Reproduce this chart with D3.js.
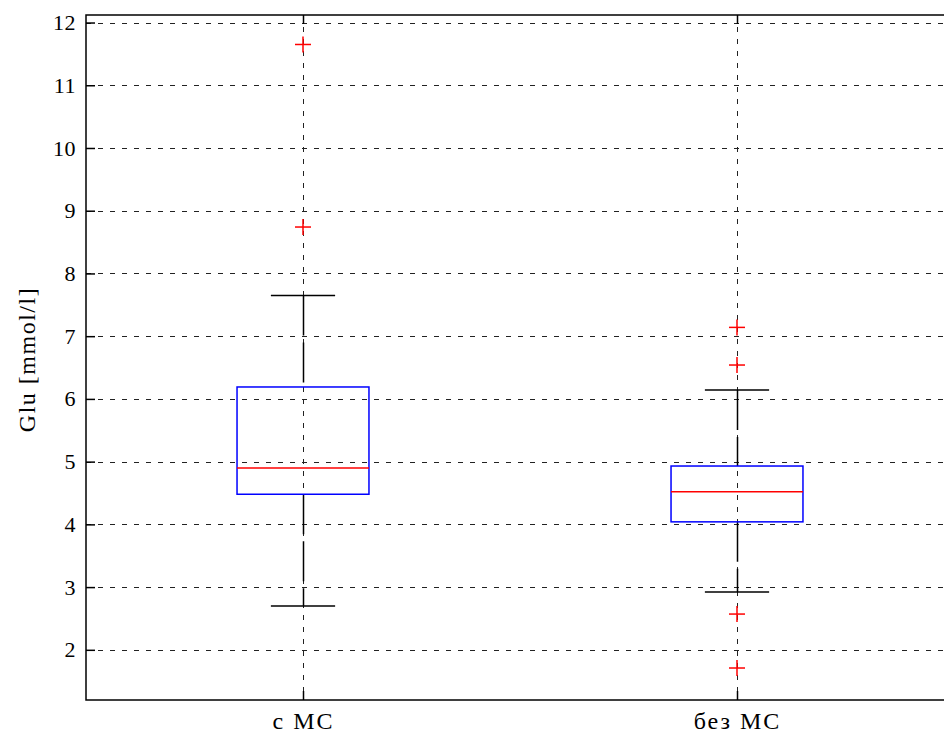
<!DOCTYPE html>
<html>
<head>
<meta charset="utf-8">
<script src="https://cdn.jsdelivr.net/npm/d3@7"></script>
<style>
  html, body { margin: 0; padding: 0; background: #fff; }
  svg { display: block; }
  svg text { font-family: "Liberation Serif", "Times New Roman", serif !important; fill: #000; }
  .ytick text { font-size: 22px !important; letter-spacing: 0.5px; }
  .xtick text { font-size: 24px !important; letter-spacing: 2px; }
  .ylabel { font-size: 24px; letter-spacing: 1.5px; }
</style>
</head>
<body>
<script>
// Glucose by group: box statistics and outliers
const groups = ["с МС", "без МС"];
const lowerWhisker = [2.70, 2.92];
const q1 = [4.48, 4.04];
const median = [4.90, 4.52];
const q3 = [6.19, 4.93];
const upperWhisker = [7.65, 6.14];
const outliers = [[11.65, 8.74], [7.14, 6.54, 2.57, 1.71]];
const yTicks = [2, 3, 4, 5, 6, 7, 8, 9, 10, 11, 12];
const yLabel = "Glu [mmol/l]";

const W = 944, H = 733;
const margin = { left: 86, top: 15, right: -10, bottom: 33 };
const innerW = W - margin.left - margin.right;
const innerH = H - margin.top - margin.bottom;

const svg = d3.select("body").append("svg").attr("width", W).attr("height", H);
const g = svg.append("g").attr("transform", `translate(${margin.left},${margin.top})`);

const x = d3.scaleLinear().domain([0.5, 2.5]).range([0, innerW]);
const y = d3.scaleLinear().domain([1.2, 12.12]).range([innerH, 0]);
const pos = groups.map((_, i) => i + 1);

// grid
const gridDash = "5,7";
g.selectAll(".hgrid").data(yTicks).join("line")
  .attr("x1", 0).attr("x2", innerW)
  .attr("y1", d => Math.round(y(d)) + 0.5).attr("y2", d => Math.round(y(d)) + 0.5)
  .attr("stroke", "#222").attr("stroke-dasharray", gridDash);
g.selectAll(".vgrid").data(pos).join("line")
  .attr("x1", d => Math.round(x(d)) + 0.5).attr("x2", d => Math.round(x(d)) + 0.5)
  .attr("y1", 0).attr("y2", innerH)
  .attr("stroke", "#222").attr("stroke-dasharray", gridDash);

// axes with inward ticks
const yG = g.append("g").attr("class", "ytick")
  .call(d3.axisLeft(y).tickValues(yTicks).tickSize(-9).tickPadding(10).tickFormat(d3.format("d")));
const xG = g.append("g").attr("class", "xtick").attr("transform", `translate(0,${innerH})`)
  .call(d3.axisBottom(x).tickValues(pos).tickSize(-9).tickPadding(12).tickFormat((d, i) => groups[i]));
const topG = g.append("g")
  .call(d3.axisTop(x).tickValues(pos).tickSize(-9).tickFormat(""));
[yG, xG, topG].forEach(a => {
  a.attr("font-family", null).attr("font-size", null);
  a.select(".domain").remove();
  a.selectAll("line").attr("stroke", "#000").attr("stroke-width", 1.5);
});

// axes frame
g.append("rect").attr("x", 0).attr("y", 0).attr("width", innerW).attr("height", innerH)
  .attr("fill", "none").attr("stroke", "#000").attr("stroke-width", 1.5);

const halfBox = 0.152, halfCap = 0.074;
const boxes = g.selectAll(".box").data(pos).join("g");

// whiskers
boxes.append("line")
  .attr("x1", d => Math.round(x(d)) + 0.5).attr("x2", d => Math.round(x(d)) + 0.5)
  .attr("y1", (d, i) => y(upperWhisker[i])).attr("y2", (d, i) => y(q3[i]))
  .attr("stroke", "#000").attr("stroke-width", 1.5).attr("stroke-dasharray", "40,7");
boxes.append("line")
  .attr("x1", d => Math.round(x(d)) + 0.5).attr("x2", d => Math.round(x(d)) + 0.5)
  .attr("y1", (d, i) => y(q1[i])).attr("y2", (d, i) => y(lowerWhisker[i]))
  .attr("stroke", "#000").attr("stroke-width", 1.5).attr("stroke-dasharray", "40,7");
// caps
[upperWhisker, lowerWhisker].forEach(arr => {
  boxes.append("line")
    .attr("x1", d => x(d - halfCap)).attr("x2", d => x(d + halfCap))
    .attr("y1", (d, i) => y(arr[i])).attr("y2", (d, i) => y(arr[i]))
    .attr("stroke", "#000").attr("stroke-width", 1.5);
});
// boxes
boxes.append("rect")
  .attr("x", d => x(d - halfBox)).attr("width", d => x(d + halfBox) - x(d - halfBox))
  .attr("y", (d, i) => y(q3[i])).attr("height", (d, i) => y(q1[i]) - y(q3[i]))
  .attr("fill", "none").attr("stroke", "#0000ff").attr("stroke-width", 1.5);
// medians
boxes.append("line")
  .attr("x1", d => x(d - halfBox)).attr("x2", d => x(d + halfBox))
  .attr("y1", (d, i) => y(median[i])).attr("y2", (d, i) => y(median[i]))
  .attr("stroke", "#ff0000").attr("stroke-width", 1.5);
// outliers
const pts = outliers.flatMap((arr, i) => arr.map(v => ({ p: pos[i], v })));
const plus = g.selectAll(".out").data(pts).join("g")
  .attr("transform", d => `translate(${x(d.p)},${y(d.v)})`);
plus.append("line").attr("x1", -8).attr("x2", 8).attr("stroke", "#ff0000").attr("stroke-width", 1.5);
plus.append("line").attr("y1", -8).attr("y2", 8).attr("stroke", "#ff0000").attr("stroke-width", 1.5);

// y label
svg.append("text")
  .attr("class", "ylabel")
  .attr("transform", `translate(35,${margin.top + innerH / 2 + 2}) rotate(-90)`)
  .attr("text-anchor", "middle")
  .text(yLabel);
</script>
</body>
</html>
